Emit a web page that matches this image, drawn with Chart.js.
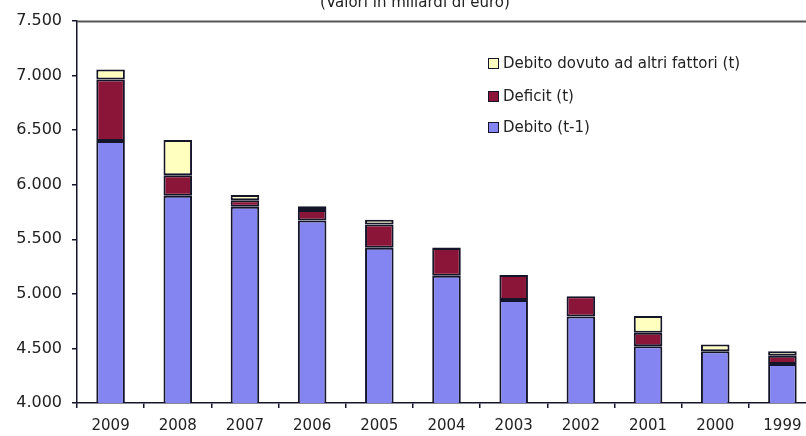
<!DOCTYPE html>
<html>
<head>
<meta charset="utf-8">
<script src="https://cdn.jsdelivr.net/npm/chart.js@4.4.1/dist/chart.umd.min.js"></script>
<style>
  html, body { margin: 0; padding: 0; background: #fff; overflow: hidden; }
  #wrap { position: absolute; left: 0; top: 0; width: 816px; height: 436px; }
</style>
</head>
<body>
<div id="wrap"><canvas id="grafico" width="816" height="436"></canvas></div>
<script>
const anni = ['2009', '2008', '2007', '2006', '2005', '2004', '2003', '2002', '2001', '2000', '1999'];
const debitoPrec = [6400, 5900, 5798, 5673, 5423, 5166, 4943, 4793, 4521, 4475, 4358];
const deficit = [563, 186, 59, 95, 212, 254, 230, 184, 122, 0, 74];
const altriFattori = [92, 324, 49, 34, 43, 5, 0, 0, 153, 61, 43];
const tickY = [4000, 4500, 5000, 5500, 6000, 6500, 7000, 7500];
const titolo = '(Valori in miliardi di euro)';

const fontBase = 'DejaVu Sans';
const bordo = '#15152a';

// titolo tagliato in alto, riga superiore e legenda dentro il grafico
const extra = {
  id: 'extra',
  afterDraw(chart) {
    const ctx = chart.ctx, a = chart.chartArea;
    ctx.save();
    ctx.strokeStyle = '#555';
    ctx.lineWidth = 2;
    ctx.beginPath();
    ctx.moveTo(a.left, a.top + 0.5);
    ctx.lineTo(a.right, a.top + 0.5);
    ctx.stroke();

    ctx.fillStyle = '#222';
    ctx.font = '15px "' + fontBase + '"';
    ctx.textAlign = 'center';
    ctx.textBaseline = 'alphabetic';
    ctx.fillText(titolo, 415, 7);

    ctx.textAlign = 'left';
    ctx.textBaseline = 'middle';
    const righe = [63, 96, 127];
    chart.data.datasets.slice().reverse().forEach((ds, i) => {
      const y = righe[i];
      ctx.fillStyle = ds.backgroundColor;
      ctx.fillRect(488, y - 5, 10, 10);
      ctx.strokeStyle = bordo;
      ctx.lineWidth = 1;
      ctx.strokeRect(488.5, y - 4.5, 10, 10);
      ctx.fillStyle = '#222';
      ctx.fillText(ds.label, 503, y + 1);
    });
    ctx.restore();
  }
};

new Chart(document.getElementById('grafico'), {
  type: 'bar',
  data: {
    labels: anni,
    datasets: [
      { label: 'Debito (t-1)', data: debitoPrec, backgroundColor: '#8585f2' },
      { label: 'Deficit (t)', data: deficit, backgroundColor: '#8a1538' },
      { label: 'Debito dovuto ad altri fattori (t)', data: altriFattori, backgroundColor: '#ffffc0' }
    ].map(d => Object.assign(d, {
      borderColor: bordo, borderWidth: 2, borderSkipped: false,
      barPercentage: 0.425, categoryPercentage: 1
    }))
  },
  options: {
    responsive: false,
    animation: false,
    devicePixelRatio: 1,
    layout: { padding: { top: 21, left: 0, right: 0, bottom: 0 } },
    plugins: { legend: { display: false }, tooltip: { enabled: false } },
    scales: {
      x: {
        stacked: true,
        afterFit: s => { s.height = 33; },
        grid: { offset: true, drawOnChartArea: false, tickLength: 5, color: bordo, lineWidth: 1.5 },
        border: { color: bordo, width: 1.5 },
        ticks: { color: '#222', font: { family: fontBase, size: 15 }, padding: 9, maxRotation: 0 }
      },
      y: {
        stacked: true,
        min: tickY[0],
        max: tickY[tickY.length - 1],
        afterFit: s => { s.width = 77; },
        afterBuildTicks: s => { s.ticks = tickY.map(v => ({ value: v })); },
        grid: { drawOnChartArea: false, tickLength: 5, color: bordo, lineWidth: 1.5 },
        border: { color: bordo, width: 1.5 },
        ticks: {
          color: '#222', font: { family: fontBase, size: 16 }, padding: 10,
          callback: v => v.toLocaleString('it-IT').replace(/\s/g, '.')
        }
      }
    }
  },
  plugins: [extra]
});
</script>
</body>
</html>
